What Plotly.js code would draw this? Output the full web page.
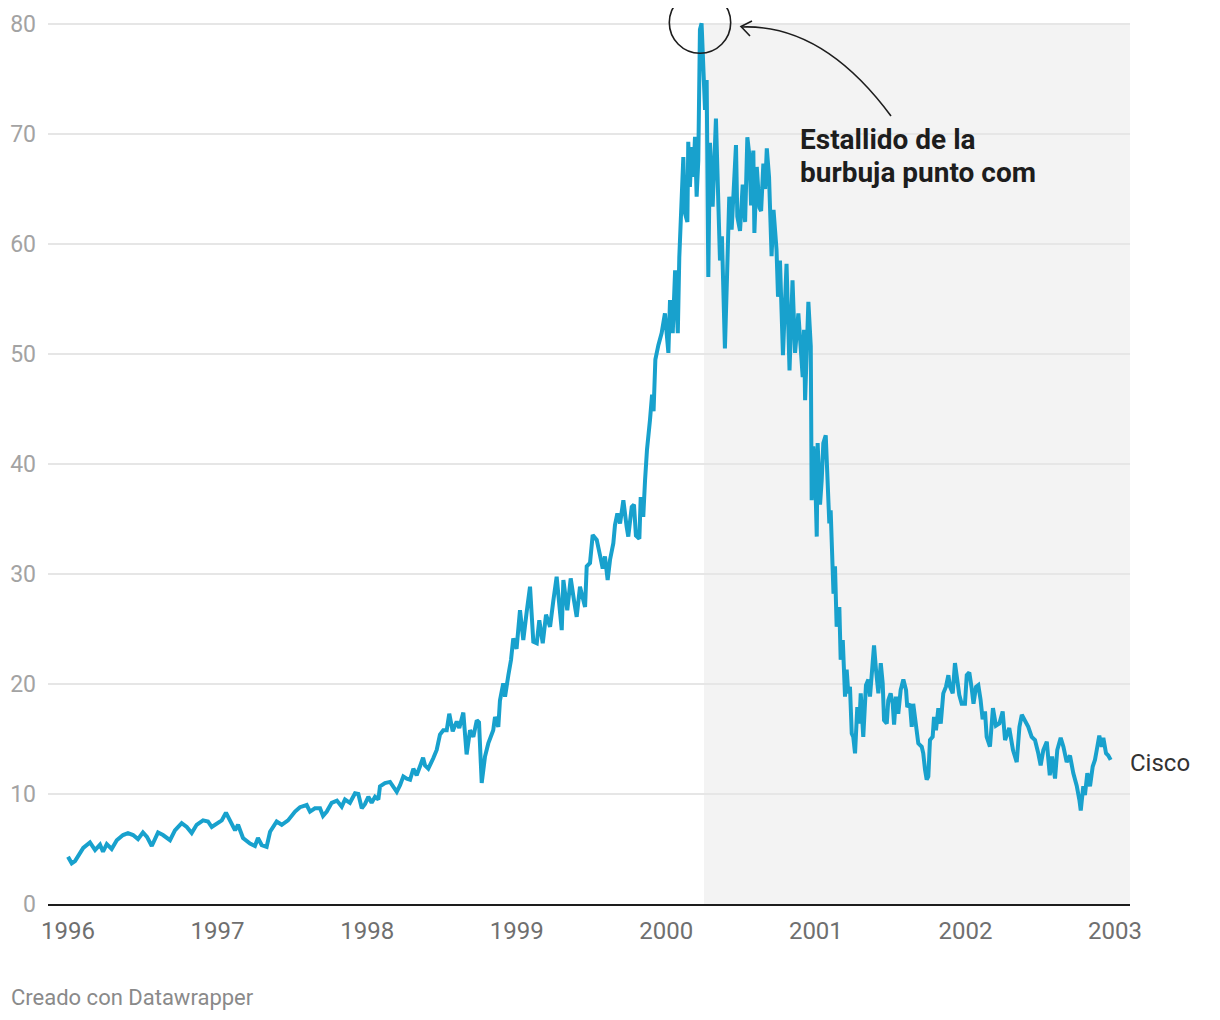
<!DOCTYPE html>
<html>
<head>
<meta charset="utf-8">
<script src="https://cdn.plot.ly/plotly-3.0.1.min.js"></script>
<style>
html,body{margin:0;padding:0;background:#fff;}
#chart{width:1220px;height:1020px;}
</style>
</head>
<body>
<div id="chart"></div>
<script>
// Cisco share price (USD); x in decimal years
const years = [
1996.000,1996.025,1996.047,1996.102,1996.147,1996.181,1996.214,1996.234,1996.259,1996.292,
1996.326,1996.368,1996.401,1996.435,1996.468,1996.501,1996.528,1996.560,1996.602,1996.635,
1996.682,1996.715,1996.760,1996.794,1996.827,1996.860,1996.903,1996.936,1996.961,1996.994,
1997.028,1997.056,1997.083,1997.117,1997.137,1997.170,1997.217,1997.250,1997.270,1997.295,
1997.328,1997.351,1997.395,1997.429,1997.471,1997.518,1997.551,1997.596,1997.618,1997.651,
1997.685,1997.705,1997.730,1997.763,1997.798,1997.830,1997.852,1997.885,1997.919,1997.941,
1997.964,1997.986,1998.008,1998.030,1998.053,1998.075,1998.086,1998.119,1998.153,1998.175,
1998.198,1998.220,1998.242,1998.265,1998.287,1998.309,1998.331,1998.353,1998.374,1998.387,
1998.409,1998.442,1998.465,1998.487,1998.509,1998.532,1998.549,1998.572,1998.599,1998.616,
1998.643,1998.665,1998.688,1998.710,1998.733,1998.748,1998.766,1998.788,1998.810,1998.843,
1998.855,1998.877,1998.888,1998.910,1998.922,1998.944,1998.962,1998.977,1998.999,1999.022,
1999.044,1999.067,1999.089,1999.111,1999.134,1999.151,1999.174,1999.196,1999.223,1999.245,
1999.267,1999.301,1999.312,1999.338,1999.361,1999.383,1999.401,1999.423,1999.457,1999.468,
1999.490,1999.508,1999.535,1999.557,1999.575,1999.590,1999.608,1999.624,1999.646,1999.657,
1999.673,1999.691,1999.713,1999.735,1999.746,1999.769,1999.784,1999.797,1999.820,1999.829,
1999.846,1999.858,1999.871,1999.891,1999.905,1999.915,1999.927,1999.947,1999.969,1999.991,
2000.014,2000.025,2000.043,2000.059,2000.077,2000.087,2000.103,2000.114,2000.125,2000.141,
2000.147,2000.158,2000.170,2000.181,2000.192,2000.203,2000.214,2000.225,2000.236,2000.247,
2000.259,2000.270,2000.281,2000.292,2000.310,2000.332,2000.347,2000.359,2000.372,2000.386,
2000.392,2000.406,2000.421,2000.437,2000.448,2000.466,2000.475,2000.493,2000.511,2000.527,
2000.542,2000.556,2000.567,2000.582,2000.589,2000.605,2000.623,2000.634,2000.649,2000.661,
2000.672,2000.687,2000.704,2000.717,2000.737,2000.747,2000.760,2000.780,2000.804,2000.824,
2000.844,2000.861,2000.883,2000.899,2000.912,2000.921,2000.928,2000.950,2000.966,2000.972,
2000.983,2000.994,2001.006,2001.012,2001.028,2001.039,2001.050,2001.066,2001.077,2001.090,
2001.099,2001.113,2001.118,2001.128,2001.139,2001.157,2001.166,2001.180,2001.188,2001.195,
2001.206,2001.217,2001.228,2001.240,2001.250,2001.262,2001.277,2001.291,2001.300,2001.317,
2001.335,2001.351,2001.362,2001.373,2001.389,2001.402,2001.418,2001.434,2001.447,2001.456,
2001.474,2001.484,2001.500,2001.514,2001.523,2001.536,2001.551,2001.567,2001.585,2001.603,
2001.611,2001.629,2001.641,2001.651,2001.670,2001.685,2001.708,2001.718,2001.730,2001.741,
2001.752,2001.763,2001.781,2001.790,2001.803,2001.819,2001.835,2001.852,2001.870,2001.886,
2001.897,2001.915,2001.930,2001.945,2001.959,2001.975,2001.997,2002.009,2002.026,2002.042,
2002.054,2002.071,2002.086,2002.101,2002.115,2002.131,2002.142,2002.164,2002.184,2002.204,
2002.227,2002.249,2002.265,2002.293,2002.318,2002.343,2002.361,2002.377,2002.398,2002.420,
2002.443,2002.465,2002.487,2002.503,2002.521,2002.544,2002.564,2002.579,2002.599,2002.614,
2002.637,2002.655,2002.677,2002.699,2002.721,2002.744,2002.762,2002.771,2002.788,2002.799,
2002.815,2002.833,2002.851,2002.866,2002.878,2002.895,2002.911,2002.922,2002.940,2002.955,
2002.971
];
const price = [
4.3,3.7,3.9,5.1,5.6,4.9,5.4,4.75,5.45,5.0,
5.8,6.27,6.45,6.27,5.9,6.5,6.1,5.27,6.5,6.27,
5.8,6.7,7.35,7.0,6.45,7.2,7.6,7.5,7.0,7.35,
7.6,8.3,7.6,6.7,7.2,6.0,5.5,5.27,6.0,5.36,
5.2,6.57,7.5,7.2,7.6,8.4,8.8,9.0,8.4,8.7,
8.7,8.0,8.4,9.2,9.4,8.85,9.5,9.2,10.06,10.0,
8.7,9.1,9.75,9.2,9.75,9.5,10.7,11.0,11.1,10.7,
10.2,10.8,11.6,11.4,11.3,12.3,11.7,12.5,13.3,12.6,
12.3,13.25,14.0,15.4,15.8,15.8,17.3,15.7,16.6,16.0,
17.4,13.6,15.8,15.2,16.7,16.5,11.0,13.4,14.6,15.8,
17.0,16.1,18.5,20.06,18.85,20.8,22.2,24.15,23.2,26.7,
24.0,26.6,28.85,23.85,23.7,25.8,23.7,26.3,25.2,27.6,
29.75,24.9,29.45,26.7,29.6,27.6,26.1,28.85,27.0,30.7,
31.0,33.55,33.1,31.7,30.5,31.6,29.45,31.3,32.8,34.45,
35.5,34.6,36.7,34.3,33.4,36.1,36.3,33.5,33.2,37.0,
35.2,38.5,41.3,44.0,46.3,44.8,49.5,50.8,51.9,53.7,
50.1,54.9,51.9,57.6,51.9,58.8,63.4,67.9,62.8,62.0,
69.3,65.2,68.8,66.1,69.75,64.3,67.6,79.5,80.06,76.1,
72.2,74.9,57.0,69.2,63.4,71.4,63.8,58.5,60.7,53.4,
50.5,57.0,64.3,61.3,64.6,69.0,62.5,61.2,65.4,62.0,
69.7,68.0,63.5,68.5,61.0,67.0,63.3,63.0,67.3,65.0,
68.7,66.1,58.9,63.1,59.5,55.2,58.5,49.9,58.2,48.5,
56.7,50.1,53.7,50.7,47.9,52.2,45.8,54.75,50.7,36.7,
41.6,39.75,33.4,41.9,36.3,38.5,41.9,42.6,38.2,34.6,
35.8,30.06,28.2,30.7,25.2,27.0,22.2,24.0,21.3,18.85,
21.3,19.15,19.75,15.5,15.2,13.7,17.9,16.4,19.15,15.2,
19.9,20.4,18.85,20.4,23.5,21.3,19.15,21.9,20.06,16.7,
16.4,18.5,19.15,18.2,16.3,18.85,17.3,19.45,20.4,19.45,
17.9,18.2,16.1,18.2,16.1,14.6,14.3,13.7,12.2,11.3,
11.6,14.9,15.2,17.0,15.8,17.8,16.4,19.15,19.75,20.8,
19.75,19.15,21.9,20.06,19.0,18.2,18.2,20.8,21.05,19.6,
18.2,19.75,19.9,18.6,16.8,17.5,15.2,14.3,17.8,16.2,
16.4,17.5,14.9,16.0,14.0,12.9,16.1,17.2,16.6,16.1,
15.2,14.9,13.7,12.6,14.0,14.75,11.7,13.4,11.4,14.0,
15.1,14.3,12.9,13.5,11.9,10.75,9.45,8.5,10.7,9.9,
11.9,10.7,12.5,13.1,14.0,15.3,14.3,15.1,13.7,13.5,
13.1
];
const yearTicks = [1996, 1997, 1998, 1999, 2000, 2001, 2002, 2003];
const yearLabels = ['1996', '1997', '1998', '1999', '2000', '2001', '2002', '2003'];
const valueTicks = [0, 10, 20, 30, 40, 50, 60, 70, 80];
const seriesName = 'Cisco';
const burstStart = 2000.252;
const noteLine1 = '<b>Estallido de la</b>';
const noteLine2 = '<b>burbuja punto com</b>';
const creditText = 'Creado con Datawrapper';

// layout geometry (pixels)
const W = 1220, H = 1020;
const M = {l: 48, r: 90, t: 18, b: 116};
const pw = W - M.l - M.r, ph = H - M.t - M.b;
const px = v => (v - M.l) / pw;          // pixel -> paper x
const py = v => (H - M.b - v) / ph;      // pixel -> paper y

const lastIdx = price.length - 1;

const trace = {
  x: years, y: price, type: 'scatter', mode: 'lines', name: seriesName,
  line: {color: '#18a1cd', width: 4, shape: 'linear'},
  hoverinfo: 'x+y'
};

const arrow = `M${px(891)},${py(116)} Q${px(823)},${py(24)} ${px(742)},${py(27)}`;
const head = `M${px(752)},${py(21)} L${px(741)},${py(26.5)} L${px(750)},${py(36)}`;

const layout = {
  width: W, height: H,
  margin: M,
  paper_bgcolor: '#ffffff', plot_bgcolor: 'rgba(0,0,0,0)',
  showlegend: false,
  font: {family: 'Roboto, "Noto Sans", sans-serif'},
  xaxis: {
    type: 'linear',
    range: [1995.8663, 2003.1003],
    tickvals: yearTicks, ticktext: yearLabels,
    showgrid: false, zeroline: false,
    showline: true, linecolor: '#1d1d1d', linewidth: 2,
    ticks: '', ticklabelstandoff: 4,
    tickfont: {family: 'Roboto', size: 24, color: '#6f6f6f'},
    fixedrange: true
  },
  yaxis: {
    range: [0, 80 + 6 / 11],
    tickvals: valueTicks,
    showgrid: true, gridcolor: '#e6e6e6', gridwidth: 2,
    zeroline: false, showline: false,
    ticks: '', ticklabelstandoff: 11,
    tickfont: {family: 'Roboto', size: 23, color: '#a3a3a3'},
    fixedrange: true
  },
  shapes: [
    {type: 'rect', xref: 'x', yref: 'y', x0: burstStart, x1: 2003.1003, y0: 0, y1: 80,
     fillcolor: '#f3f3f3', line: {width: 0}, layer: 'below'},
    {type: 'circle', xref: 'paper', yref: 'paper',
     x0: px(669.3), x1: px(730.7), y0: py(53.3), y1: py(-8.1),
     line: {color: '#1d1d1d', width: 1.6}, layer: 'above'},
    {type: 'rect', xref: 'paper', yref: 'paper', x0: px(640), x1: px(760), y0: py(8), y1: py(-40),
     fillcolor: '#ffffff', line: {width: 0}, layer: 'above'},
    {type: 'path', xref: 'paper', yref: 'paper', path: arrow,
     line: {color: '#1d1d1d', width: 1.6}, layer: 'above'},
    {type: 'path', xref: 'paper', yref: 'paper', path: head,
     line: {color: '#1d1d1d', width: 1.6}, layer: 'above'}
  ],
  annotations: [
    {xref: 'paper', yref: 'paper', x: px(798), y: py(140), xanchor: 'left', yanchor: 'middle',
     text: noteLine1, showarrow: false, align: 'left',
     font: {family: 'Roboto', size: 28, color: '#1d1d1d'}},
    {xref: 'paper', yref: 'paper', x: px(798), y: py(173), xanchor: 'left', yanchor: 'middle',
     text: noteLine2, showarrow: false, align: 'left',
     font: {family: 'Roboto', size: 28, color: '#1d1d1d'}},
    {xref: 'x', yref: 'y', x: 2003.1003, y: price[lastIdx], xanchor: 'left', yanchor: 'middle',
     xshift: -2, yshift: -3, text: seriesName, showarrow: false,
     font: {family: 'Roboto', size: 24, color: '#333333'}},
    {xref: 'paper', yref: 'paper', x: px(9), y: py(997), xanchor: 'left', yanchor: 'middle',
     text: creditText, showarrow: false,
     font: {family: 'Roboto', size: 22, color: '#8a8a8a'}}
  ]
};

Plotly.newPlot('chart', [trace], layout, {displayModeBar: false, staticPlot: true});
</script>
</body>
</html>
